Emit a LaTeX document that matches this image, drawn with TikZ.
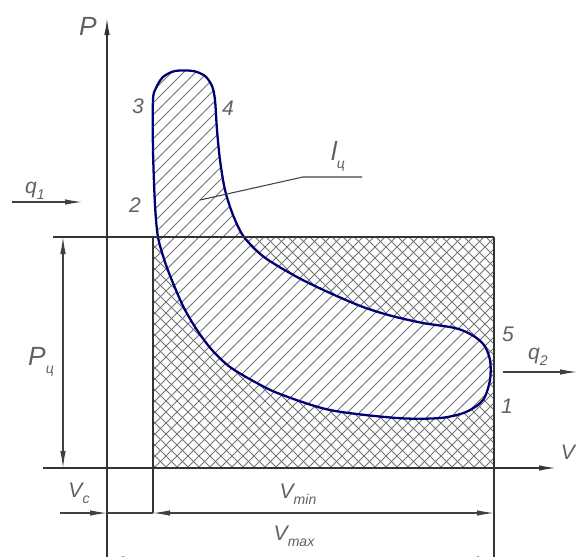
\documentclass[tikz,border=0pt]{standalone}
\usepackage{fontspec}
\setmainfont{Liberation Sans}
\usetikzlibrary{arrows.meta}

\newcommand{\lowsub}[1]{\lower0.3em\hbox{\fontsize{8}{8}\selectfont #1}}

\begin{document}
\begin{tikzpicture}[x=0.2mm, y=-0.2mm,
    % --- STYLES ---
    axis/.style={draw=black!80, line width=0.8pt},
    dim/.style={draw=black!75, line width=0.6pt},
    tip/.style={-{Latex[length=3.4mm, width=1.1mm]}},
    dimtips/.style={{Latex[length=3.4mm, width=1.1mm]}-{Latex[length=3.4mm, width=1.1mm]}},
    hatch/.style={draw=black!55, line width=0.45pt},
    cyc/.style={draw=blue!45!black, line width=1.3pt},
    txt/.style={text=black!62, inner sep=0pt, font=\itshape\fontsize{12}{14}\selectfont},
    bigtxt/.style={txt, font=\itshape\fontsize{15}{18}\selectfont},
    cycle path/.style={insert path={plot[smooth cycle, tension=0.5] coordinates {
        (153,100) (153,150) (155,205) (158,237) (165,262) (173,283) (184,308)
        (197,330) (212,350) (230,367) (255,382) (280,394) (330,410) (397,418)
        (440,418) (466,412) (483,400) (490,380) (490,360) (484,345) (472,335)
        (455,328) (423,323) (392,316) (363,307) (330,293) (297,277) (264,257)
        (244,237) (233,215) (225,190) (220,160) (217,130) (215,100) (212,86)
        (205,76) (193,71) (175,71) (163,77) (156,88)}}}
]
    \useasboundingbox (0,0) rectangle (577,556);

    % ==========================================
    % HATCHING
    % ==========================================
    \begin{scope}
        \clip (153,237) rectangle (494,468);
        \foreach \a in {-400,-389,...,420} {
            \draw[hatch] (\a,0) -- ++(560,560);
            \draw[hatch] (\a,560) -- ++(560,-560);
        }
    \end{scope}
    \fill[white, cycle path];
    \begin{scope}
        \clip[cycle path];
        \foreach \a in {-400,-388,...,420} {
            \draw[hatch] (\a,560) -- ++(560,-560);
        }
    \end{scope}
    \draw[cyc, cycle path];

    % ==========================================
    % AXES AND LINES
    % ==========================================
    \coordinate (pbot) at (107,562);
    \coordinate (ptop) at (107,18);
    \coordinate (vleft) at (43,468);
    \coordinate (vright) at (556,468);
    \draw[axis, tip] (pbot) -- (ptop);
    \draw[axis, tip] (vleft) -- (vright);

    \coordinate (topleft) at (53,237);
    \coordinate (rectnw) at (153,237);
    \coordinate (rectne) at (494,237);
    \coordinate (minbot) at (153,513);
    \coordinate (maxbot) at (494,562);
    \draw[axis] (topleft) -- (rectne);
    \draw[axis] (rectnw) -- (minbot);
    \draw[axis] (rectne) -- (maxbot);

    % ==========================================
    % DIMENSIONS
    % ==========================================
    \coordinate (pctop) at (63,237);
    \coordinate (pcbot) at (63,468);
    \draw[dim, dimtips] (pctop) -- (pcbot);

    \coordinate (vcstart) at (60,513);
    \coordinate (vcend) at (107,513);
    \coordinate (vminend) at (494,513);
    \draw[dim, tip] (vcstart) -- (vcend);
    \draw[dim] (vcend) -- (minbot);
    \draw[dim, dimtips] (minbot) -- (vminend);

    \coordinate (vmaxstart) at (107,559);
    \coordinate (vmaxend) at (494,559);
    \draw[dim, dimtips] (vmaxstart) -- (vmaxend);

    % heat in / out
    \coordinate (qastart) at (12,202);
    \coordinate (qaend) at (82,202);
    \coordinate (qbstart) at (503,372);
    \coordinate (qbend) at (577,372);
    \draw[dim, tip] (qastart) -- (qaend);
    \draw[dim, tip] (qbstart) -- (qbend);

    % leader
    \coordinate (leadin) at (200,200);
    \coordinate (leadknee) at (303,177);
    \coordinate (leadout) at (362,177);
    \draw[dim] (leadin) -- (leadknee) -- (leadout);

    % ==========================================
    % LABELS
    % ==========================================
    \node[bigtxt] (plbl) at (88,26) {P};
    \node[txt] (vlbl) at (568,452) {V};
    \node[txt] (pt3) at (138,106) {3};
    \node[txt] (pt4) at (228,108) {4};
    \node[txt] (pt2) at (135,205) {2};
    \node[txt] (pt5) at (508,334) {5};
    \node[txt] (pt1) at (507,406) {1};
    \node[txt] (qa) at (35,191) {q\lowsub{1}};
    \node[txt] (qb) at (538,357) {q\lowsub{2}};
    \node[bigtxt] (lc) at (338,156) {l\lowsub{ц}};
    \node[bigtxt] (pc) at (41,362) {P\lowsub{ц}};
    \node[txt] (vc) at (79,493) {V\lowsub{c}};
    \node[txt] (vmin) at (298,494) {V\lowsub{min}};
    \node[txt] (vmax) at (294,536) {V\lowsub{max}};

\end{tikzpicture}
\end{document}
